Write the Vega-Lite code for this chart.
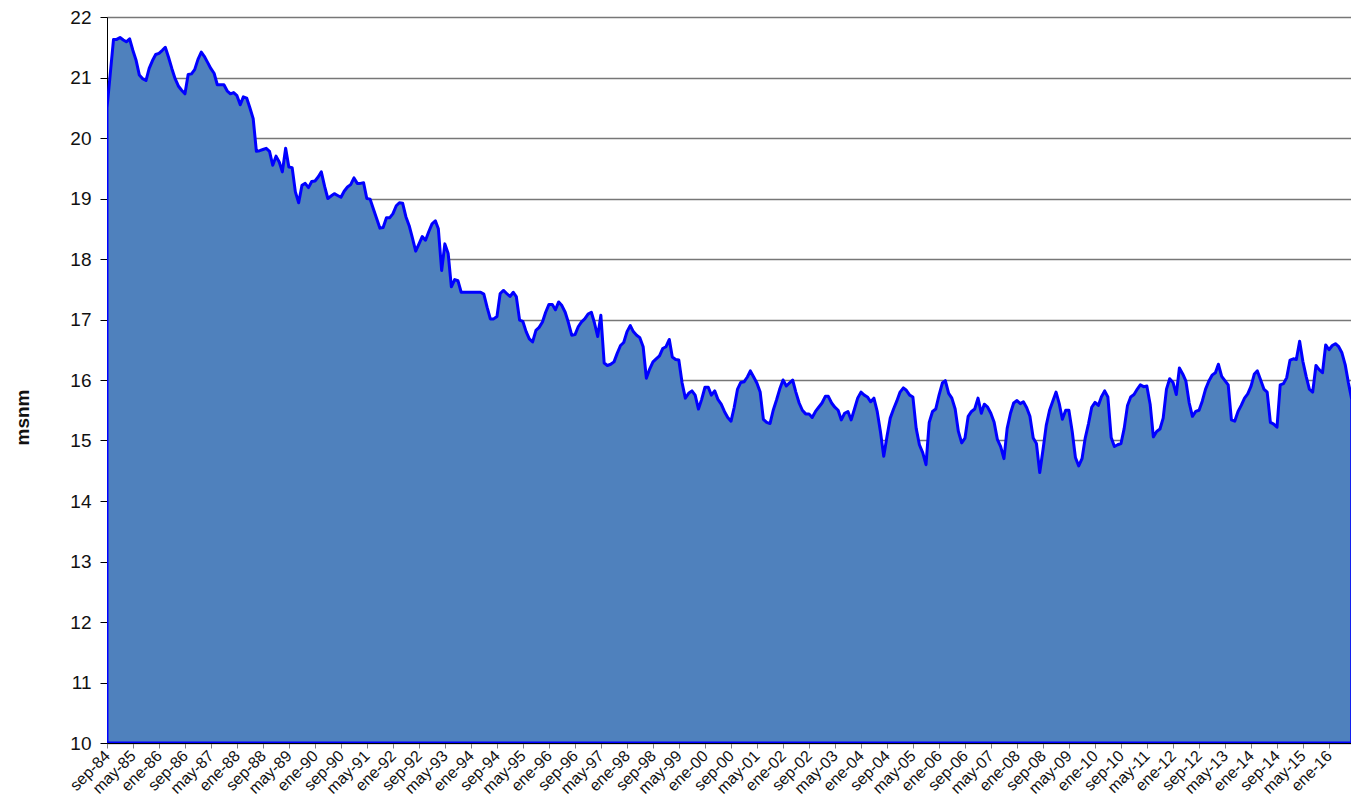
{
"$schema": "https://vega.github.io/schema/vega-lite/v6.json",
"width": 1244, "height": 726,
"autosize": {"type": "none"},
"padding": {"left": 107, "top": 17, "right": 0, "bottom": 60},
"background": "white",
"config": {"view": {"stroke": null}, "font": "Liberation Sans"},
"data": {"values": [
{"mes":"1984-09","msnm":20.50},{"mes":"1984-10","msnm":21.05},{"mes":"1984-11","msnm":21.63},{"mes":"1984-12","msnm":21.63},
{"mes":"1985-01","msnm":21.66},{"mes":"1985-02","msnm":21.62},{"mes":"1985-03","msnm":21.59},{"mes":"1985-04","msnm":21.64},{"mes":"1985-05","msnm":21.45},{"mes":"1985-06","msnm":21.28},{"mes":"1985-07","msnm":21.04},{"mes":"1985-08","msnm":20.98},{"mes":"1985-09","msnm":20.95},{"mes":"1985-10","msnm":21.15},{"mes":"1985-11","msnm":21.28},{"mes":"1985-12","msnm":21.38},
{"mes":"1986-01","msnm":21.40},{"mes":"1986-02","msnm":21.45},{"mes":"1986-03","msnm":21.50},{"mes":"1986-04","msnm":21.33},{"mes":"1986-05","msnm":21.15},{"mes":"1986-06","msnm":20.98},{"mes":"1986-07","msnm":20.86},{"mes":"1986-08","msnm":20.79},{"mes":"1986-09","msnm":20.73},{"mes":"1986-10","msnm":21.05},{"mes":"1986-11","msnm":21.06},{"mes":"1986-12","msnm":21.13},
{"mes":"1987-01","msnm":21.30},{"mes":"1987-02","msnm":21.42},{"mes":"1987-03","msnm":21.35},{"mes":"1987-04","msnm":21.25},{"mes":"1987-05","msnm":21.15},{"mes":"1987-06","msnm":21.07},{"mes":"1987-07","msnm":20.88},{"mes":"1987-08","msnm":20.88},{"mes":"1987-09","msnm":20.88},{"mes":"1987-10","msnm":20.78},{"mes":"1987-11","msnm":20.73},{"mes":"1987-12","msnm":20.75},
{"mes":"1988-01","msnm":20.70},{"mes":"1988-02","msnm":20.55},{"mes":"1988-03","msnm":20.68},{"mes":"1988-04","msnm":20.66},{"mes":"1988-05","msnm":20.50},{"mes":"1988-06","msnm":20.32},{"mes":"1988-07","msnm":19.78},{"mes":"1988-08","msnm":19.79},{"mes":"1988-09","msnm":19.81},{"mes":"1988-10","msnm":19.83},{"mes":"1988-11","msnm":19.78},{"mes":"1988-12","msnm":19.55},
{"mes":"1989-01","msnm":19.70},{"mes":"1989-02","msnm":19.60},{"mes":"1989-03","msnm":19.44},{"mes":"1989-04","msnm":19.83},{"mes":"1989-05","msnm":19.52},{"mes":"1989-06","msnm":19.51},{"mes":"1989-07","msnm":19.11},{"mes":"1989-08","msnm":18.93},{"mes":"1989-09","msnm":19.22},{"mes":"1989-10","msnm":19.25},{"mes":"1989-11","msnm":19.18},{"mes":"1989-12","msnm":19.28},
{"mes":"1990-01","msnm":19.29},{"mes":"1990-02","msnm":19.36},{"mes":"1990-03","msnm":19.44},{"mes":"1990-04","msnm":19.20},{"mes":"1990-05","msnm":19.00},{"mes":"1990-06","msnm":19.04},{"mes":"1990-07","msnm":19.08},{"mes":"1990-08","msnm":19.05},{"mes":"1990-09","msnm":19.02},{"mes":"1990-10","msnm":19.12},{"mes":"1990-11","msnm":19.19},{"mes":"1990-12","msnm":19.23},
{"mes":"1991-01","msnm":19.34},{"mes":"1991-02","msnm":19.25},{"mes":"1991-03","msnm":19.25},{"mes":"1991-04","msnm":19.26},{"mes":"1991-05","msnm":19.00},{"mes":"1991-06","msnm":18.99},{"mes":"1991-07","msnm":18.83},{"mes":"1991-08","msnm":18.67},{"mes":"1991-09","msnm":18.51},{"mes":"1991-10","msnm":18.52},{"mes":"1991-11","msnm":18.68},{"mes":"1991-12","msnm":18.68},
{"mes":"1992-01","msnm":18.75},{"mes":"1992-02","msnm":18.88},{"mes":"1992-03","msnm":18.93},{"mes":"1992-04","msnm":18.92},{"mes":"1992-05","msnm":18.70},{"mes":"1992-06","msnm":18.55},{"mes":"1992-07","msnm":18.35},{"mes":"1992-08","msnm":18.13},{"mes":"1992-09","msnm":18.25},{"mes":"1992-10","msnm":18.37},{"mes":"1992-11","msnm":18.31},{"mes":"1992-12","msnm":18.45},
{"mes":"1993-01","msnm":18.58},{"mes":"1993-02","msnm":18.63},{"mes":"1993-03","msnm":18.50},{"mes":"1993-04","msnm":17.81},{"mes":"1993-05","msnm":18.25},{"mes":"1993-06","msnm":18.09},{"mes":"1993-07","msnm":17.54},{"mes":"1993-08","msnm":17.66},{"mes":"1993-09","msnm":17.64},{"mes":"1993-10","msnm":17.45},{"mes":"1993-11","msnm":17.45},{"mes":"1993-12","msnm":17.45},
{"mes":"1994-01","msnm":17.45},{"mes":"1994-02","msnm":17.45},{"mes":"1994-03","msnm":17.45},{"mes":"1994-04","msnm":17.45},{"mes":"1994-05","msnm":17.42},{"mes":"1994-06","msnm":17.20},{"mes":"1994-07","msnm":17.01},{"mes":"1994-08","msnm":17.01},{"mes":"1994-09","msnm":17.05},{"mes":"1994-10","msnm":17.43},{"mes":"1994-11","msnm":17.48},{"mes":"1994-12","msnm":17.43},
{"mes":"1995-01","msnm":17.38},{"mes":"1995-02","msnm":17.45},{"mes":"1995-03","msnm":17.38},{"mes":"1995-04","msnm":16.99},{"mes":"1995-05","msnm":16.97},{"mes":"1995-06","msnm":16.80},{"mes":"1995-07","msnm":16.68},{"mes":"1995-08","msnm":16.63},{"mes":"1995-09","msnm":16.82},{"mes":"1995-10","msnm":16.87},{"mes":"1995-11","msnm":16.96},{"mes":"1995-12","msnm":17.12},
{"mes":"1996-01","msnm":17.25},{"mes":"1996-02","msnm":17.25},{"mes":"1996-03","msnm":17.16},{"mes":"1996-04","msnm":17.29},{"mes":"1996-05","msnm":17.23},{"mes":"1996-06","msnm":17.12},{"mes":"1996-07","msnm":16.95},{"mes":"1996-08","msnm":16.74},{"mes":"1996-09","msnm":16.75},{"mes":"1996-10","msnm":16.88},{"mes":"1996-11","msnm":16.96},{"mes":"1996-12","msnm":17.01},
{"mes":"1997-01","msnm":17.09},{"mes":"1997-02","msnm":17.12},{"mes":"1997-03","msnm":16.95},{"mes":"1997-04","msnm":16.72},{"mes":"1997-05","msnm":17.07},{"mes":"1997-06","msnm":16.28},{"mes":"1997-07","msnm":16.24},{"mes":"1997-08","msnm":16.26},{"mes":"1997-09","msnm":16.30},{"mes":"1997-10","msnm":16.44},{"mes":"1997-11","msnm":16.57},{"mes":"1997-12","msnm":16.62},
{"mes":"1998-01","msnm":16.80},{"mes":"1998-02","msnm":16.90},{"mes":"1998-03","msnm":16.80},{"mes":"1998-04","msnm":16.74},{"mes":"1998-05","msnm":16.70},{"mes":"1998-06","msnm":16.55},{"mes":"1998-07","msnm":16.03},{"mes":"1998-08","msnm":16.18},{"mes":"1998-09","msnm":16.30},{"mes":"1998-10","msnm":16.35},{"mes":"1998-11","msnm":16.40},{"mes":"1998-12","msnm":16.52},
{"mes":"1999-01","msnm":16.55},{"mes":"1999-02","msnm":16.67},{"mes":"1999-03","msnm":16.38},{"mes":"1999-04","msnm":16.34},{"mes":"1999-05","msnm":16.33},{"mes":"1999-06","msnm":15.95},{"mes":"1999-07","msnm":15.70},{"mes":"1999-08","msnm":15.78},{"mes":"1999-09","msnm":15.82},{"mes":"1999-10","msnm":15.75},{"mes":"1999-11","msnm":15.52},{"mes":"1999-12","msnm":15.68},
{"mes":"2000-01","msnm":15.88},{"mes":"2000-02","msnm":15.88},{"mes":"2000-03","msnm":15.75},{"mes":"2000-04","msnm":15.82},{"mes":"2000-05","msnm":15.68},{"mes":"2000-06","msnm":15.60},{"mes":"2000-07","msnm":15.48},{"mes":"2000-08","msnm":15.38},{"mes":"2000-09","msnm":15.32},{"mes":"2000-10","msnm":15.55},{"mes":"2000-11","msnm":15.85},{"mes":"2000-12","msnm":15.96},
{"mes":"2001-01","msnm":15.97},{"mes":"2001-02","msnm":16.05},{"mes":"2001-03","msnm":16.15},{"mes":"2001-04","msnm":16.05},{"mes":"2001-05","msnm":15.95},{"mes":"2001-06","msnm":15.80},{"mes":"2001-07","msnm":15.35},{"mes":"2001-08","msnm":15.30},{"mes":"2001-09","msnm":15.28},{"mes":"2001-10","msnm":15.50},{"mes":"2001-11","msnm":15.67},{"mes":"2001-12","msnm":15.85},
{"mes":"2002-01","msnm":16.00},{"mes":"2002-02","msnm":15.90},{"mes":"2002-03","msnm":15.95},{"mes":"2002-04","msnm":16.00},{"mes":"2002-05","msnm":15.80},{"mes":"2002-06","msnm":15.62},{"mes":"2002-07","msnm":15.50},{"mes":"2002-08","msnm":15.44},{"mes":"2002-09","msnm":15.44},{"mes":"2002-10","msnm":15.38},{"mes":"2002-11","msnm":15.48},{"mes":"2002-12","msnm":15.55},
{"mes":"2003-01","msnm":15.62},{"mes":"2003-02","msnm":15.73},{"mes":"2003-03","msnm":15.73},{"mes":"2003-04","msnm":15.62},{"mes":"2003-05","msnm":15.55},{"mes":"2003-06","msnm":15.50},{"mes":"2003-07","msnm":15.34},{"mes":"2003-08","msnm":15.45},{"mes":"2003-09","msnm":15.48},{"mes":"2003-10","msnm":15.34},{"mes":"2003-11","msnm":15.52},{"mes":"2003-12","msnm":15.70},
{"mes":"2004-01","msnm":15.80},{"mes":"2004-02","msnm":15.75},{"mes":"2004-03","msnm":15.72},{"mes":"2004-04","msnm":15.64},{"mes":"2004-05","msnm":15.70},{"mes":"2004-06","msnm":15.48},{"mes":"2004-07","msnm":15.15},{"mes":"2004-08","msnm":14.74},{"mes":"2004-09","msnm":15.07},{"mes":"2004-10","msnm":15.37},{"mes":"2004-11","msnm":15.52},{"mes":"2004-12","msnm":15.65},
{"mes":"2005-01","msnm":15.80},{"mes":"2005-02","msnm":15.87},{"mes":"2005-03","msnm":15.83},{"mes":"2005-04","msnm":15.75},{"mes":"2005-05","msnm":15.72},{"mes":"2005-06","msnm":15.20},{"mes":"2005-07","msnm":14.93},{"mes":"2005-08","msnm":14.80},{"mes":"2005-09","msnm":14.60},{"mes":"2005-10","msnm":15.30},{"mes":"2005-11","msnm":15.48},{"mes":"2005-12","msnm":15.52},
{"mes":"2006-01","msnm":15.75},{"mes":"2006-02","msnm":15.95},{"mes":"2006-03","msnm":15.99},{"mes":"2006-04","msnm":15.78},{"mes":"2006-05","msnm":15.70},{"mes":"2006-06","msnm":15.52},{"mes":"2006-07","msnm":15.15},{"mes":"2006-08","msnm":14.96},{"mes":"2006-09","msnm":15.04},{"mes":"2006-10","msnm":15.40},{"mes":"2006-11","msnm":15.48},{"mes":"2006-12","msnm":15.52},
{"mes":"2007-01","msnm":15.70},{"mes":"2007-02","msnm":15.45},{"mes":"2007-03","msnm":15.60},{"mes":"2007-04","msnm":15.55},{"mes":"2007-05","msnm":15.45},{"mes":"2007-06","msnm":15.30},{"mes":"2007-07","msnm":15.02},{"mes":"2007-08","msnm":14.90},{"mes":"2007-09","msnm":14.70},{"mes":"2007-10","msnm":15.20},{"mes":"2007-11","msnm":15.45},{"mes":"2007-12","msnm":15.62},
{"mes":"2008-01","msnm":15.66},{"mes":"2008-02","msnm":15.61},{"mes":"2008-03","msnm":15.64},{"mes":"2008-04","msnm":15.54},{"mes":"2008-05","msnm":15.40},{"mes":"2008-06","msnm":15.04},{"mes":"2008-07","msnm":14.95},{"mes":"2008-08","msnm":14.47},{"mes":"2008-09","msnm":14.85},{"mes":"2008-10","msnm":15.25},{"mes":"2008-11","msnm":15.50},{"mes":"2008-12","msnm":15.65},
{"mes":"2009-01","msnm":15.80},{"mes":"2009-02","msnm":15.60},{"mes":"2009-03","msnm":15.35},{"mes":"2009-04","msnm":15.50},{"mes":"2009-05","msnm":15.50},{"mes":"2009-06","msnm":15.15},{"mes":"2009-07","msnm":14.72},{"mes":"2009-08","msnm":14.58},{"mes":"2009-09","msnm":14.70},{"mes":"2009-10","msnm":15.04},{"mes":"2009-11","msnm":15.28},{"mes":"2009-12","msnm":15.55},
{"mes":"2010-01","msnm":15.63},{"mes":"2010-02","msnm":15.58},{"mes":"2010-03","msnm":15.72},{"mes":"2010-04","msnm":15.82},{"mes":"2010-05","msnm":15.72},{"mes":"2010-06","msnm":15.05},{"mes":"2010-07","msnm":14.90},{"mes":"2010-08","msnm":14.93},{"mes":"2010-09","msnm":14.95},{"mes":"2010-10","msnm":15.20},{"mes":"2010-11","msnm":15.58},{"mes":"2010-12","msnm":15.72},
{"mes":"2011-01","msnm":15.76},{"mes":"2011-02","msnm":15.85},{"mes":"2011-03","msnm":15.92},{"mes":"2011-04","msnm":15.89},{"mes":"2011-05","msnm":15.90},{"mes":"2011-06","msnm":15.60},{"mes":"2011-07","msnm":15.06},{"mes":"2011-08","msnm":15.15},{"mes":"2011-09","msnm":15.19},{"mes":"2011-10","msnm":15.37},{"mes":"2011-11","msnm":15.85},{"mes":"2011-12","msnm":16.02},
{"mes":"2012-01","msnm":15.96},{"mes":"2012-02","msnm":15.76},{"mes":"2012-03","msnm":16.20},{"mes":"2012-04","msnm":16.10},{"mes":"2012-05","msnm":15.98},{"mes":"2012-06","msnm":15.62},{"mes":"2012-07","msnm":15.40},{"mes":"2012-08","msnm":15.48},{"mes":"2012-09","msnm":15.50},{"mes":"2012-10","msnm":15.65},{"mes":"2012-11","msnm":15.85},{"mes":"2012-12","msnm":15.98},
{"mes":"2013-01","msnm":16.08},{"mes":"2013-02","msnm":16.12},{"mes":"2013-03","msnm":16.26},{"mes":"2013-04","msnm":16.06},{"mes":"2013-05","msnm":15.99},{"mes":"2013-06","msnm":15.92},{"mes":"2013-07","msnm":15.34},{"mes":"2013-08","msnm":15.32},{"mes":"2013-09","msnm":15.48},{"mes":"2013-10","msnm":15.58},{"mes":"2013-11","msnm":15.70},{"mes":"2013-12","msnm":15.77},
{"mes":"2014-01","msnm":15.90},{"mes":"2014-02","msnm":16.10},{"mes":"2014-03","msnm":16.15},{"mes":"2014-04","msnm":16.00},{"mes":"2014-05","msnm":15.85},{"mes":"2014-06","msnm":15.80},{"mes":"2014-07","msnm":15.30},{"mes":"2014-08","msnm":15.27},{"mes":"2014-09","msnm":15.22},{"mes":"2014-10","msnm":15.92},{"mes":"2014-11","msnm":15.94},{"mes":"2014-12","msnm":16.04},
{"mes":"2015-01","msnm":16.33},{"mes":"2015-02","msnm":16.35},{"mes":"2015-03","msnm":16.34},{"mes":"2015-04","msnm":16.64},{"mes":"2015-05","msnm":16.31},{"mes":"2015-06","msnm":16.06},{"mes":"2015-07","msnm":15.85},{"mes":"2015-08","msnm":15.80},{"mes":"2015-09","msnm":16.24},{"mes":"2015-10","msnm":16.17},{"mes":"2015-11","msnm":16.12},{"mes":"2015-12","msnm":16.58},
{"mes":"2016-01","msnm":16.50},{"mes":"2016-02","msnm":16.57},{"mes":"2016-03","msnm":16.60},{"mes":"2016-04","msnm":16.55},{"mes":"2016-05","msnm":16.45},{"mes":"2016-06","msnm":16.25},{"mes":"2016-07","msnm":15.95},{"mes":"2016-08","msnm":15.68}
]},
"mark": {"type": "area", "clip": true, "fill": "#4F81BD", "fillOpacity": 1, "stroke": "#0000FF", "strokeWidth": 3, "strokeJoin": "round"},
"encoding": {
  "x": {"field": "mes", "type": "temporal",
    "scale": {"type": "utc", "domain": [{"year":1984,"month":9,"date":1,"utc":true},{"year":2016,"month":7,"date":25,"utc":true}]},
    "axis": {
      "values": [
        {"year":1984,"month":9,"date":1,"utc":true},{"year":1985,"month":5,"date":1,"utc":true},{"year":1986,"month":1,"date":1,"utc":true},{"year":1986,"month":9,"date":1,"utc":true},
        {"year":1987,"month":5,"date":1,"utc":true},{"year":1988,"month":1,"date":1,"utc":true},{"year":1988,"month":9,"date":1,"utc":true},{"year":1989,"month":5,"date":1,"utc":true},
        {"year":1990,"month":1,"date":1,"utc":true},{"year":1990,"month":9,"date":1,"utc":true},{"year":1991,"month":5,"date":1,"utc":true},{"year":1992,"month":1,"date":1,"utc":true},
        {"year":1992,"month":9,"date":1,"utc":true},{"year":1993,"month":5,"date":1,"utc":true},{"year":1994,"month":1,"date":1,"utc":true},{"year":1994,"month":9,"date":1,"utc":true},
        {"year":1995,"month":5,"date":1,"utc":true},{"year":1996,"month":1,"date":1,"utc":true},{"year":1996,"month":9,"date":1,"utc":true},{"year":1997,"month":5,"date":1,"utc":true},
        {"year":1998,"month":1,"date":1,"utc":true},{"year":1998,"month":9,"date":1,"utc":true},{"year":1999,"month":5,"date":1,"utc":true},{"year":2000,"month":1,"date":1,"utc":true},
        {"year":2000,"month":9,"date":1,"utc":true},{"year":2001,"month":5,"date":1,"utc":true},{"year":2002,"month":1,"date":1,"utc":true},{"year":2002,"month":9,"date":1,"utc":true},
        {"year":2003,"month":5,"date":1,"utc":true},{"year":2004,"month":1,"date":1,"utc":true},{"year":2004,"month":9,"date":1,"utc":true},{"year":2005,"month":5,"date":1,"utc":true},
        {"year":2006,"month":1,"date":1,"utc":true},{"year":2006,"month":9,"date":1,"utc":true},{"year":2007,"month":5,"date":1,"utc":true},{"year":2008,"month":1,"date":1,"utc":true},
        {"year":2008,"month":9,"date":1,"utc":true},{"year":2009,"month":5,"date":1,"utc":true},{"year":2010,"month":1,"date":1,"utc":true},{"year":2010,"month":9,"date":1,"utc":true},
        {"year":2011,"month":5,"date":1,"utc":true},{"year":2012,"month":1,"date":1,"utc":true},{"year":2012,"month":9,"date":1,"utc":true},{"year":2013,"month":5,"date":1,"utc":true},
        {"year":2014,"month":1,"date":1,"utc":true},{"year":2014,"month":9,"date":1,"utc":true},{"year":2015,"month":5,"date":1,"utc":true},{"year":2016,"month":1,"date":1,"utc":true}
      ],
      "labelExpr": "['ene','feb','mar','abr','may','jun','jul','ago','sep','oct','nov','dic'][utcmonth(datum.value)] + '-' + utcFormat(datum.value, '%y')",
      "labelAngle": -45, "labelAlign": "right", "labelBaseline": "middle",
      "labelFont": "Liberation Sans", "labelFontSize": 16, "labelColor": "#111111", "labelPadding": 5,
      "labelFlush": false, "labelOverlap": false, "labelBound": false,
      "tickSize": 5, "tickColor": "#808080", "tickWidth": 1,
      "domain": true, "domainColor": "#000000", "domainWidth": 1,
      "grid": false, "title": null
    }
  },
  "y": {"field": "msnm", "type": "quantitative",
    "scale": {"domain": [10, 22], "nice": false, "zero": false},
    "axis": {
      "values": [10,11,12,13,14,15,16,17,18,19,20,21,22],
      "grid": true, "gridColor": "#777777", "gridWidth": 1.3,
      "domain": true, "domainColor": "#000000", "domainWidth": 1,
      "ticks": true, "tickColor": "#000000", "tickSize": 7,
      "labelFont": "Liberation Sans", "labelFontSize": 19, "labelColor": "#111111", "labelPadding": 9,
      "labelFlush": false, "labelOverlap": false,
      "title": "msnm", "titleFont": "Liberation Sans", "titleFontSize": 19, "titleFontWeight": "bold", "titleColor": "#111111",
      "titleAngle": 270, "titleX": -85, "titleY": 400, "titleAlign": "center", "titleBaseline": "middle"
    }
  },
  "y2": {"datum": 10}
}
}
